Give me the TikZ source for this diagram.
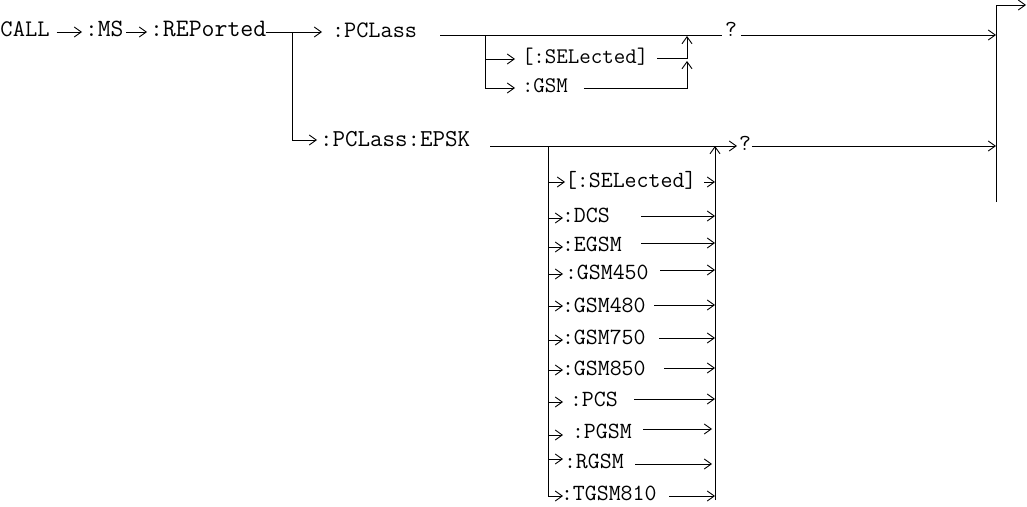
\documentclass[tikz,border=0pt]{standalone}
\usetikzlibrary{arrows.meta}
\tikzset{
  txt/.style={font=\ttfamily\fontsize{#1}{#1}\selectfont, inner sep=0pt, outer sep=0pt,
              text height=13pt, text depth=0pt, anchor=west},
  txt/.default=23.2,
  ln/.style={line width=0.9pt},
  ar/.style={ln, -{Straight Barb[length=7pt,width=10pt]}},
}
\begin{document}
\begin{tikzpicture}[x=1pt,y=-1pt]
\useasboundingbox (0,0) rectangle (1027,506);

% ---- main row
\node[txt=23.8] (call) at (0.5,30) {CALL};
\node[txt=24.8] (ms)   at (85,30)  {:MS};
\node[txt=25.1] (rep)  at (150,30) {:REPorted};
\node[txt=23.6] (pcl)  at (332,31) {:PCLass};
\node[txt=24.3] (epsk) at (320,140) {:PCLass:EPSK};
\node[txt=23] (q1) at (725,30) {?};
\node[txt=23] (q2) at (739,144) {?};

\draw[ar] ([shift={(7,2)}]call.east) -- ([shift={(-3,2)}]ms.west);
\draw[ar] ([shift={(3,2)}]ms.east) -- ([shift={(-3,2)}]rep.west);
\draw[ar] ([shift={(0,2)}]rep.east) -- ([shift={(-10,1)}]pcl.west);
\coordinate (j1) at (292,32);
\draw[ar] (j1) |- ([shift={(-3,0)}]epsk.west);

% ---- closing bar
\coordinate (bt) at (996,5);
\coordinate (bb) at (996,202);
\coordinate (out) at (1026,5);
\coordinate (b1) at (996,35);
\coordinate (b2) at (996,146);
\draw[ln] (bb) -- (bt);
\draw[ar] (bt) -- (out);

% ---- :PCLass branch
\draw[ln] ([shift={(23,4)}]pcl.east) -- ([shift={(-3,5)}]q1.west);
\draw[ar] ([shift={(4,5)}]q1.east) -- (b1);
\node[txt=22.3] (sel1) at (522,57) {[:SELected]};
\node[txt=22.3] (gsm1) at (522,86) {:GSM};
\coordinate (p1) at (485,35);
\draw[ar] (p1) |- ([shift={(-7,2)}]sel1.west);
\draw[ar] (p1) |- ([shift={(-7,2)}]gsm1.west);
\coordinate (m1) at (687,36);
\coordinate (m2) at (687,61);
\draw[ar] ([shift={(9,1)}]sel1.east) -| (m1);
\draw[ar] ([shift={(16,2)}]gsm1.east) -| (m2);

% ---- :PCLass:EPSK branch
\coordinate (e1) at (548,146);
\coordinate (e2) at (715,146);
\coordinate (e3) at (715,500);
\draw[ar] ([shift={(20,6)}]epsk.east) -- ([shift={(-2,2)}]q2.west);
\draw[ar] ([shift={(1,2)}]q2.east) -- (b2);
\draw[ar] (e3) -- (e2);

\foreach \n/\t/\tx/\ty/\ay/\tip/\lx/\ly/\rx in {
  sel2/{[:SELected]}/565/181/182/565/704/182/715,
  dcs/{:DCS}/562/216/218/563/641/216/715,
  egsm/{:EGSM}/562/245/247/563/641/243/715,
  g450/{:GSM450}/565/273/274/563/660/270/715,
  g480/{:GSM480}/562/306/306/563/654/305/715,
  g750/{:GSM750}/562/338/340/563/659/338/715,
  g850/{:GSM850}/562/369/370/563/664/368/715,
  pcs/{:PCS}/570/400/402/563/634/399/715,
  pgsm/{:PGSM}/572/432/435/563/643/429/712,
  rgsm/{:RGSM}/564/462/459/563/635/464/712}
{
  \node[txt] (\n) at (\tx,\ty) {\t};
  \coordinate (\n-l) at (548,\ay);
  \coordinate (\n-a) at (\tip,\ay);
  \coordinate (\n-s) at (\lx,\ly);
  \coordinate (\n-r) at (\rx,\ly);
  \draw[ar] (\n-l) -- (\n-a);
  \draw[ar] (\n-s) -- (\n-r);
}
\node[txt] (tgsm) at (561,494) {:TGSM810};
\coordinate (tg-a) at (563,496);
\coordinate (tg-s) at (669,496);
\coordinate (tg-r) at (715,496);
\draw[ar] (e1) |- (tg-a);
\draw[ar] (tg-s) -- (tg-r);
\end{tikzpicture}
\end{document}
